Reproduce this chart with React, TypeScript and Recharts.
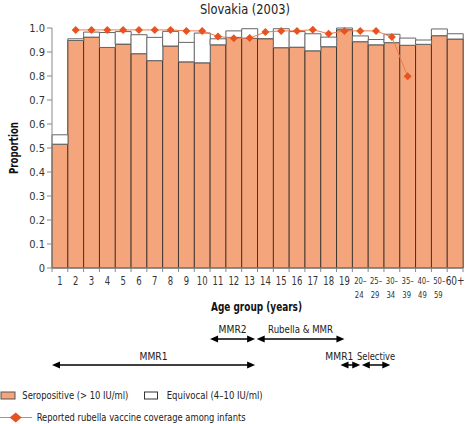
import React from 'react';
import { ComposedChart, Bar, Line, XAxis, YAxis } from 'recharts';

const categories = ['1','2','3','4','5','6','7','8','9','10','11','12','13','14','15','16','17','18','19','20–24','25–29','30–34','35–39','40–49','50–59','60+'];
const seropositive = [0.516,0.948,0.962,0.919,0.933,0.893,0.864,0.925,0.859,0.855,0.930,0.961,0.957,0.955,0.918,0.920,0.905,0.922,0.993,0.943,0.930,0.939,0.928,0.932,0.968,0.954];
const equivocal = [0.039,0.007,0.021,0.062,0.052,0.079,0.097,0.061,0.081,0.124,0.025,0.027,0.040,0,0.079,0.065,0.071,0.040,0.007,0.024,0.022,0.035,0.030,0.018,0.028,0.022];
const coverage: (number | null)[] = [null,0.992,0.992,0.992,0.992,0.992,0.992,0.992,0.988,0.988,0.965,0.957,0.958,0.983,0.988,0.988,0.993,0.976,0.988,0.988,0.988,0.962,0.799,null,null,null];
const yTicks = [0,0.1,0.2,0.3,0.4,0.5,0.6,0.7,0.8,0.9,1.0];

// vaccination programme spans, in category units from the left edge of the axis
const programmes = [
  { label: 'MMR2', from: 10, to: 12.85, row: 0 },
  { label: 'Rubella & MMR', from: 12.95, to: 18.5, row: 0 },
  { label: 'MMR1', from: 0, to: 12.85, row: 1 },
  { label: 'MMR1', from: 18.25, to: 19.5, row: 1 },
  { label: 'Selective', from: 19.6, to: 21.4, row: 1 },
];

const data = categories.map((age, i) => ({
  age,
  seropositive: seropositive[i],
  equivocal: equivocal[i],
  coverage: coverage[i],
}));

const W = 468;
const H = 424;
const PLOT_LEFT = 52;
const PLOT_RIGHT = 463;
const PLOT_TOP = 28;
const PLOT_BOTTOM = 268;
const FONT = '"DejaVu Sans Condensed", "Liberation Sans Narrow", "Arial Narrow", sans-serif';
const ORANGE = '#F5A57B';
const DIAMOND = '#E8521E';
const LINE = '#EE7C4C';
const TEXT = '#222';

const band = (PLOT_RIGHT - PLOT_LEFT) / categories.length;
const catX = (u: number) => PLOT_LEFT + u * band;

function AgeTick(props: any) {
  const { x, payload, index } = props;
  const half = payload && payload.offset ? payload.offset : band / 2;
  const label: string = payload.value;
  const parts = label.includes('–') ? [label.split('–')[0] + '–', label.split('–')[1]] : [label];
  const top = PLOT_BOTTOM;
  return (
    <g>
      <line x1={x - half} x2={x - half} y1={top} y2={top + 4} stroke="#888" strokeWidth={1} />
      {index === categories.length - 1 && (
        <line x1={x + half} x2={x + half} y1={top} y2={top + 4} stroke="#888" strokeWidth={1} />
      )}
      {parts.length === 1 ? (
        <text transform={`translate(${x},${top + 17}) scale(${label === '60+' ? 0.8 : 0.82},1)`} textAnchor="middle" fontSize={label === '60+' ? 12.5 : 11.5} fill="#333" fontFamily={FONT}>{parts[0]}</text>
      ) : (
        <g>
          <text transform={`translate(${x},${top + 16}) scale(0.85,1)`} textAnchor="middle" fontSize={9} fill="#333" fontFamily={FONT}>{parts[0]}</text>
          <text transform={`translate(${x - 1},${top + 30}) scale(0.85,1)`} textAnchor="middle" fontSize={9} fill="#333" fontFamily={FONT}>{parts[1]}</text>
        </g>
      )}
    </g>
  );
}

function Diamond(props: any) {
  const { cx, cy, index } = props;
  if (cx == null || cy == null) return <g key={'d' + index} />;
  const r = 4;
  return (
    <polygon key={'d' + index} points={`${cx},${cy - r} ${cx + r},${cy} ${cx},${cy + r} ${cx - r},${cy}`} fill={DIAMOND} stroke="none" />
  );
}

function Arrow({ x1, x2, y }: { x1: number; x2: number; y: number }) {
  const hl = 8;
  const hw = 3.5;
  return (
    <g>
      <line x1={x1 + hl - 1} x2={x2 - hl + 1} y1={y} y2={y} stroke="#000" strokeWidth={1.5} />
      <polygon points={`${x1},${y} ${x1 + hl},${y - hw} ${x1 + hl},${y + hw}`} fill="#000" />
      <polygon points={`${x2},${y} ${x2 - hl},${y - hw} ${x2 - hl},${y + hw}`} fill="#000" />
    </g>
  );
}

const labelShift: Record<number, number> = { 3: -11 };
const labelWidth: Record<string, number> = { 'MMR2': 28, 'Rubella & MMR': 65, 'MMR1': 28, 'Selective': 38 };

export default function App() {
  const rowText = [329, 356];
  const rowArrow = [339, 365];
  return (
    <div style={{ position: 'absolute', left: 0, top: 0, width: W, height: H, background: '#fff', fontFamily: FONT }}>
      <ComposedChart
        width={W}
        height={H}
        data={data}
        margin={{ top: PLOT_TOP, right: W - PLOT_RIGHT, left: 8, bottom: 126 }}
        barCategoryGap={0}
        barGap={0}
      >
        <XAxis
          dataKey="age"
          height={30}
          interval={0}
          tickLine={false}
          axisLine={{ stroke: '#888' }}
          tick={<AgeTick />}
        />
        <YAxis
          width={44}
          domain={[0, 1]}
          ticks={yTicks}
          interval={0}
          tickSize={5}
          tickMargin={2}
          axisLine={{ stroke: '#888' }}
          tickLine={{ stroke: '#888' }}
          tick={{ fontSize: 11, fill: '#333', fontFamily: FONT }}
          tickFormatter={(v: number) => (v === 0 ? '0' : v.toFixed(1))}
        />
        <Bar dataKey="seropositive" stackId="a" fill={ORANGE} stroke="#3d3530" strokeWidth={1} isAnimationActive={false} />
        <Bar dataKey="equivocal" stackId="a" fill="#fff" stroke="#666" strokeWidth={1} isAnimationActive={false} />
        <Line
          dataKey="coverage"
          stroke={LINE}
          strokeWidth={1}
          connectNulls={false}
          dot={<Diamond />}
          activeDot={false}
          isAnimationActive={false}
        />
      </ComposedChart>
      <svg width={W} height={H} style={{ position: 'absolute', left: 0, top: 0, pointerEvents: 'none' }}>
        <text x={245} y={14} textAnchor="middle" fontSize={14} fill={TEXT} fontFamily={FONT} textLength={90} lengthAdjust="spacingAndGlyphs">Slovakia (2003)</text>
        <text x={0} y={0} transform={`translate(18, ${(PLOT_TOP + PLOT_BOTTOM) / 2}) rotate(-90)`} textAnchor="middle" fontSize={12} fontWeight="bold" fill="#111" fontFamily={FONT} textLength={52} lengthAdjust="spacingAndGlyphs">Proportion</text>
        <text x={256.5} y={311} textAnchor="middle" fontSize={12} fontWeight="bold" fill="#111" fontFamily={FONT} textLength={91} lengthAdjust="spacingAndGlyphs">Age group (years)</text>
        {programmes.map((p, i) => {
          const x1 = catX(p.from);
          const x2 = catX(p.to);
          const cx = (x1 + x2) / 2 + (labelShift[i] || 0);
          return (
            <g key={i}>
              <text x={cx} y={rowText[p.row] + 4} textAnchor="middle" fontSize={11} fill={TEXT} fontFamily={FONT} textLength={labelWidth[p.label]} lengthAdjust="spacingAndGlyphs">{p.label}</text>
              <Arrow x1={x1} x2={x2} y={rowArrow[p.row]} />
            </g>
          );
        })}
        <rect x={1} y={392} width={14} height={7} fill={ORANGE} stroke="#555" strokeWidth={1} />
        <text x={22.3} y={399} fontSize={11} fill={TEXT} fontFamily={FONT} textLength={106} lengthAdjust="spacingAndGlyphs">Seropositive (&gt; 10 IU/ml)</text>
        <rect x={144.5} y={392} width={13} height={7} fill="#fff" stroke="#333" strokeWidth={1} />
        <text x={166.7} y={399} fontSize={11} fill={TEXT} fontFamily={FONT} textLength={96} lengthAdjust="spacingAndGlyphs">Equivocal (4–10 IU/ml)</text>
        <line x1={0} x2={32} y1={417.5} y2={417.5} stroke={LINE} strokeWidth={1} />
        <polygon points="15.7,412.5 21.7,417.5 15.7,422.5 9.7,417.5" fill={DIAMOND} />
        <text x={36.7} y={421} fontSize={11} fill={TEXT} fontFamily={FONT} textLength={209} lengthAdjust="spacingAndGlyphs">Reported rubella vaccine coverage among infants</text>
      </svg>
    </div>
  );
}
